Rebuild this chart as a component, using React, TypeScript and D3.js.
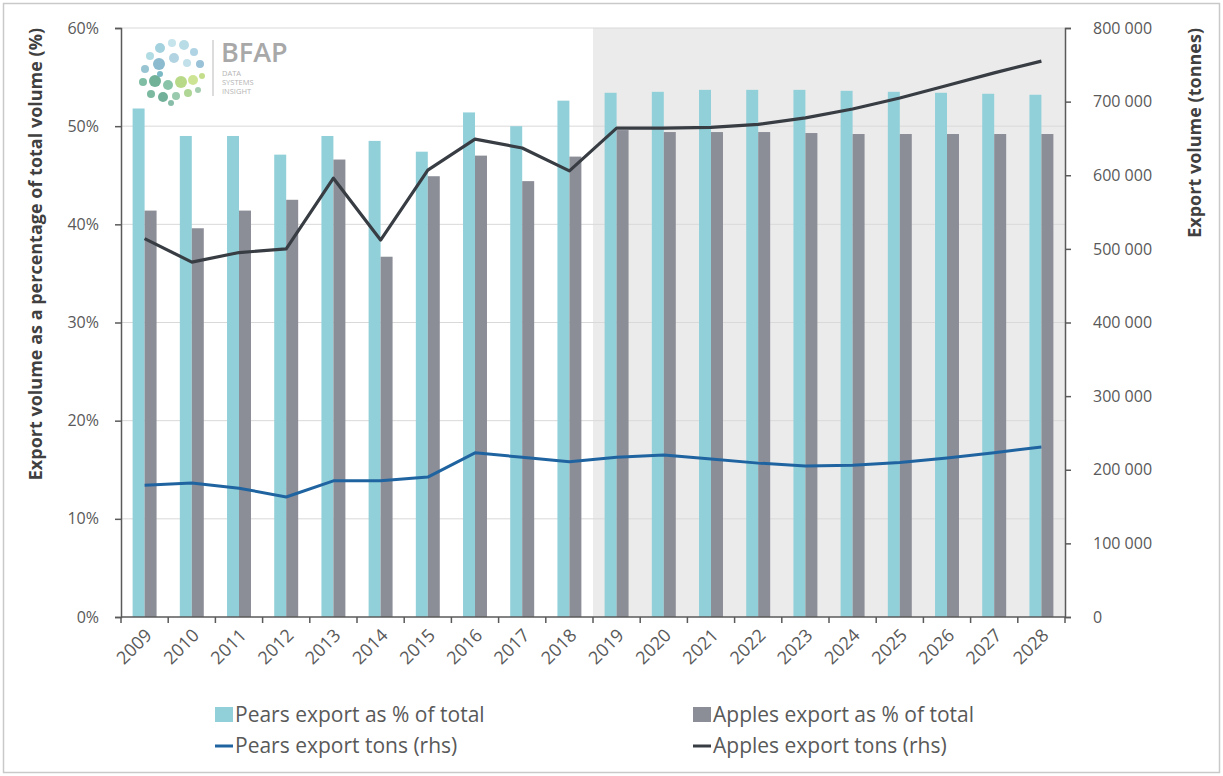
import React, { useRef, useEffect } from 'react';
import * as d3 from 'd3';

const years = ['2009', '2010', '2011', '2012', '2013', '2014', '2015', '2016', '2017', '2018',
  '2019', '2020', '2021', '2022', '2023', '2024', '2025', '2026', '2027', '2028'];

// % of total volume exported (left axis)
const pearsPct = [51.8, 49.0, 49.0, 47.1, 49.0, 48.5, 47.4, 51.4, 50.0, 52.6,
  53.4, 53.5, 53.7, 53.7, 53.7, 53.6, 53.5, 53.4, 53.3, 53.2];
const applesPct = [41.4, 39.6, 41.4, 42.5, 46.6, 36.7, 44.9, 47.0, 44.4, 46.9,
  49.6, 49.4, 49.4, 49.4, 49.3, 49.2, 49.2, 49.2, 49.2, 49.2];

// export tonnes (right axis)
const pearsTons = [179000, 182000, 175000, 163000, 185000, 185000, 190000, 223000, 217000, 211000,
  217000, 220000, 214500, 209000, 205000, 206000, 210000, 216000, 223000, 231000];
const applesTons = [514000, 482000, 495000, 500000, 596000, 512000, 607000, 649000, 637000, 606000,
  664000, 664000, 665000, 669000, 678000, 690000, 705000, 722000, 739000, 755000];

const leftTicks = [0, 10, 20, 30, 40, 50, 60];
const rightTicks = [0, 100000, 200000, 300000, 400000, 500000, 600000, 700000, 800000];
const forecastStart = '2019';

const W = 1223;
const H = 776;
const FONT = "'Open Sans', 'Noto Sans', sans-serif";

const App: React.FC = () => {
  const svgRef = useRef<SVGSVGElement>(null);

  useEffect(() => {
    if (!svgRef.current) return;
    const svg = d3.select(svgRef.current);
    svg.selectAll('*').remove();

    const left = 121, right = 1065, top = 28, bottom = 617;

    const x0 = d3.scaleBand<string>().domain(years).range([left, right]).padding(0);
    const x1 = d3.scaleBand<string>().domain(['pears', 'apples'])
      .range([0, x0.bandwidth()]).paddingInner(0).paddingOuter(0.97);
    const yL = d3.scaleLinear().domain([0, 60]).range([bottom, top]);
    const yR = d3.scaleLinear().domain([0, 800000]).range([bottom, top]);

    // outer frame
    svg.append('rect').attr('x', 3.5).attr('y', 3.5).attr('width', W - 7).attr('height', H - 7)
      .attr('fill', '#fff').attr('stroke', '#c9c9c9').attr('stroke-width', 1.5);

    // forecast shading
    const fx = x0(forecastStart) as number;
    svg.append('rect').attr('x', fx).attr('y', top).attr('width', right - fx).attr('height', bottom - top)
      .attr('fill', '#ebebeb');

    // gridlines
    svg.append('g').selectAll('line').data(leftTicks.slice(1)).join('line')
      .attr('x1', left).attr('x2', right)
      .attr('y1', d => yL(d)).attr('y2', d => yL(d))
      .attr('stroke', '#d9d9d9').attr('stroke-width', 1);

    // logo
    const logo = svg.append('g').attr('transform', 'translate(136,36)');
    const dots: [number, number, number, string][] = [
      [14, 20, 4, '#9fd3dc'], [24, 12, 5, '#8cc7d6'], [36, 7, 4, '#b7dde6'], [48, 9, 5, '#a8d4e0'],
      [58, 16, 4, '#9cc9dc'], [64, 28, 4, '#7fb3cf'], [9, 33, 4, '#7fb6c8'], [23, 28, 6, '#6fa9c2'],
      [38, 22, 5, '#9fc8da'], [51, 27, 4, '#b3d8e3'], [7, 46, 4, '#5fae8e'], [19, 45, 6, '#4e9e7e'],
      [32, 49, 5, '#6bb592'], [45, 46, 6, '#a6cf6a'], [57, 44, 5, '#c2dd7a'], [66, 40, 3, '#b5d66f'],
      [15, 58, 4, '#5aa88a'], [27, 61, 5, '#4f9c80'], [40, 60, 4, '#7fbd9a'], [52, 57, 4, '#9ccc7c'],
      [35, 67, 3, '#6aae93'], [24, 38, 3, '#5aa7b6'], [62, 54, 3, '#8cc09a']
    ];
    logo.selectAll('circle').data(dots).join('circle')
      .attr('cx', d => d[0]).attr('cy', d => d[1]).attr('r', d => d[2]).attr('fill', d => d[3])
      .attr('opacity', 0.8);
    logo.append('line').attr('x1', 77).attr('x2', 77).attr('y1', 4).attr('y2', 60)
      .attr('stroke', '#d0d0d0').attr('stroke-width', 1.5);
    logo.append('text').attr('x', 85).attr('y', 26).text('BFAP')
      .attr('font-family', FONT).attr('font-size', 27).attr('fill', '#a8a8a8').attr('font-weight', 600);
    ['DATA', 'SYSTEMS', 'INSIGHT'].forEach((t, i) => {
      logo.append('text').attr('x', 86).attr('y', 40 + i * 9).text(t)
        .attr('font-family', FONT).attr('font-size', 7.5).attr('fill', '#b5b5b5');
    });

    // bars
    const barG = svg.append('g');
    barG.selectAll('rect.p').data(years).join('rect').attr('class', 'p')
      .attr('x', d => (x0(d) as number) + (x1('pears') as number))
      .attr('width', x1.bandwidth())
      .attr('y', (_, i) => yL(pearsPct[i]))
      .attr('height', (_, i) => bottom - yL(pearsPct[i]))
      .attr('fill', '#92d0d9');
    barG.selectAll('rect.a').data(years).join('rect').attr('class', 'a')
      .attr('x', d => (x0(d) as number) + (x1('apples') as number))
      .attr('width', x1.bandwidth())
      .attr('y', (_, i) => yL(applesPct[i]))
      .attr('height', (_, i) => bottom - yL(applesPct[i]))
      .attr('fill', '#8b8d97');

    // lines
    const cx = (i: number) => (x0(years[i]) as number) + x0.bandwidth() / 2;
    const line = d3.line<number>().x((_, i) => cx(i)).y(d => yR(d));
    svg.append('path').datum(pearsTons).attr('d', line).attr('fill', 'none')
      .attr('stroke', '#1f64a0').attr('stroke-width', 3).attr('stroke-linejoin', 'round');
    svg.append('path').datum(applesTons).attr('d', line).attr('fill', 'none')
      .attr('stroke', '#383d44').attr('stroke-width', 3.2).attr('stroke-linejoin', 'round');

    const axisColor = '#5a5a5a';
    const textColor = '#595959';

    // left axis
    const gl = svg.append('g').attr('transform', `translate(${left},0)`)
      .call(d3.axisLeft(yL).tickValues(leftTicks).tickFormat(d => `${d}%`).tickSize(6).tickPadding(16));
    // right axis
    const fmt = (d: number) => d3.format(',')(d).replace(/,/g, ' ');
    const gr = svg.append('g').attr('transform', `translate(${right},0)`)
      .call(d3.axisRight(yR).tickValues(rightTicks).tickFormat(d => fmt(d as number)).tickSize(6).tickPadding(22));
    // x axis with ticks at band boundaries
    const gx = svg.append('g').attr('transform', `translate(0,${bottom})`);
    gx.append('line').attr('x1', left).attr('x2', right).attr('stroke', axisColor).attr('stroke-width', 1.5);
    const bounds = years.map(y => x0(y) as number).concat([right]);
    gx.selectAll('line.t').data(bounds).join('line').attr('class', 't')
      .attr('x1', d => d).attr('x2', d => d).attr('y1', 0).attr('y2', 6)
      .attr('stroke', axisColor).attr('stroke-width', 1.5);
    gx.selectAll('text').data(years).join('text')
      .attr('transform', (_, i) => `translate(${cx(i) + 4},${15}) rotate(-45)`)
      .attr('text-anchor', 'end').attr('dy', '0.35em')
      .attr('font-family', FONT).attr('font-size', 18).attr('fill', textColor)
      .text(d => d);

    [gl, gr].forEach(g => {
      g.select('.domain').attr('stroke', axisColor).attr('stroke-width', 1.5);
      g.selectAll('.tick line').attr('stroke', axisColor).attr('stroke-width', 1.5);
      g.selectAll('.tick text').attr('font-family', FONT).attr('font-size', 16).attr('fill', textColor);
    });

    // axis titles
    svg.append('text').attr('transform', `translate(36,${top}) rotate(-90)`)
      .attr('text-anchor', 'end').attr('dy', '0.35em')
      .attr('font-family', FONT).attr('font-size', 18).attr('font-weight', 700).attr('fill', '#404040')
      .text('Export volume as a percentage of total volume (%)');
    svg.append('text').attr('transform', `translate(1195,${top}) rotate(-90)`)
      .attr('text-anchor', 'end').attr('dy', '0.35em')
      .attr('font-family', FONT).attr('font-size', 18).attr('font-weight', 700).attr('fill', '#404040')
      .text('Export volume (tonnes)');

    // legend
    const legend = [
      { label: 'Pears export as % of total', color: '#92d0d9', type: 'bar', x: 215, y: 715 },
      { label: 'Apples export as % of total', color: '#8b8d97', type: 'bar', x: 693, y: 715 },
      { label: 'Pears export tons (rhs)', color: '#1f64a0', type: 'line', x: 215, y: 746 },
      { label: 'Apples export tons (rhs)', color: '#383d44', type: 'line', x: 693, y: 746 }
    ];
    const lg = svg.append('g');
    legend.forEach(l => {
      if (l.type === 'bar') {
        lg.append('rect').attr('x', l.x).attr('y', l.y - 8).attr('width', 18).attr('height', 15).attr('fill', l.color);
      } else {
        lg.append('line').attr('x1', l.x).attr('x2', l.x + 18).attr('y1', l.y).attr('y2', l.y)
          .attr('stroke', l.color).attr('stroke-width', 3);
      }
      lg.append('text').attr('x', l.x + 20).attr('y', l.y).attr('dy', '0.35em')
        .attr('font-family', FONT).attr('font-size', 21).attr('fill', textColor).text(l.label);
    });
  }, []);

  return (
    <svg ref={svgRef} width={W} height={H} style={{ position: 'absolute', left: 0, top: 0, background: '#fff' }} />
  );
};

export default App;
